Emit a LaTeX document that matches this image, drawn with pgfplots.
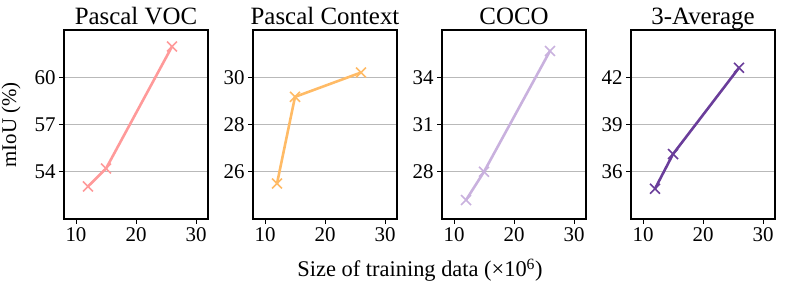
\documentclass[border=0pt]{standalone}
\usepackage{fontspec}
\setmainfont{Liberation Serif}
\usepackage{pgfplots}
\pgfplotsset{compat=1.18}
\definecolor{cpink}{HTML}{FF9A9A}
\definecolor{corange}{HTML}{FFBB66}
\definecolor{clav}{HTML}{C9B1DE}
\definecolor{cpurp}{HTML}{6A3D9A}
\pgfplotsset{
  panel/.style={
    scale only axis, width=144bp, height=189bp, anchor=south west,
    xmin=8, xmax=32, xtick={10,20,30},
    axis line style={line width=1.1pt},
    tick style={black, line width=0.9pt},
    tick align=outside, major tick length=5bp,
    xtick pos=bottom, ytick pos=left,
    ymajorgrids, grid style={gray!55, line width=1.1pt},
    /pgf/number format/assume math mode=true,
    ticklabel style={font=\fontsize{21}{21}\selectfont},
    title style={font=\fontsize{25}{25}\selectfont, at={(0.5,1)}, anchor=base, yshift=-0.5bp, inner sep=0pt},
    every axis plot/.append style={line width=2.6pt, mark=x, mark size=7bp, mark options={line width=1.6pt}},
  }
}
\begin{document}
\begin{tikzpicture}
\useasboundingbox (0bp,0bp) rectangle (789bp,287bp);
\begin{axis}[panel, at={(64bp,68bp)}, title={Pascal VOC}, ymin=51, ymax=63, ytick={54,57,60}]
\addplot[cpink] coordinates {(12,53.07) (15,54.2) (26,61.95)};
\end{axis}
\begin{axis}[panel, at={(253bp,68bp)}, title={Pascal Context}, ymin=24, ymax=32, ytick={26,28,30}]
\addplot[corange] coordinates {(12,25.5) (15,29.17) (26,30.2)};
\end{axis}
\begin{axis}[panel, at={(442bp,68bp)}, title={COCO}, ymin=25, ymax=37, ytick={28,31,34}]
\addplot[clav] coordinates {(12,26.2) (15,28.0) (26,35.67)};
\end{axis}
\begin{axis}[panel, at={(631bp,68bp)}, title={3-Average}, ymin=33, ymax=45, ytick={36,39,42}]
\addplot[cpurp] coordinates {(12,34.92) (15,37.12) (26,42.6)};
\end{axis}
\node[rotate=90, font=\fontsize{21}{21}\selectfont] at (11bp,162bp) {mIoU (\%)};
\node[font=\fontsize{22.5}{22.5}\selectfont] at (420bp,17bp) {Size of training data (×10\textsuperscript{6})};
\end{tikzpicture}
\end{document}
